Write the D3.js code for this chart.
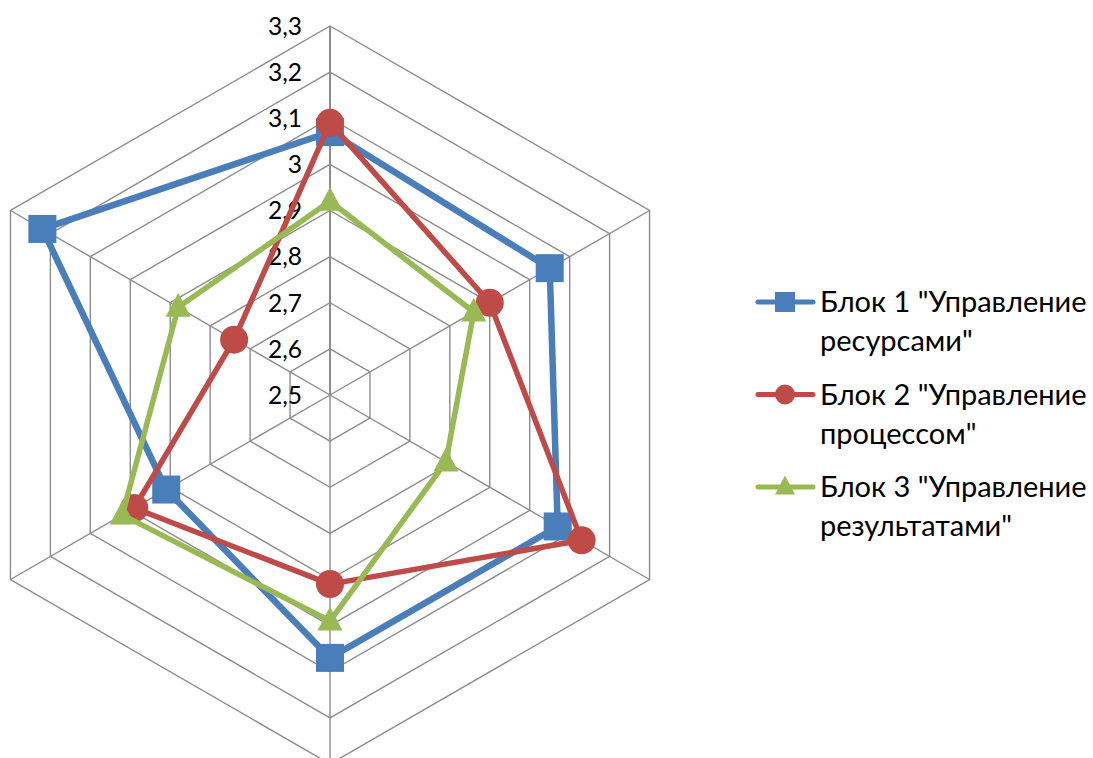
<!DOCTYPE html>
<html><head><meta charset="utf-8">
<script src="https://cdn.jsdelivr.net/npm/d3@7/dist/d3.min.js"></script>
<style>html,body{margin:0;padding:0;background:#fff;}svg{display:block;}</style>
</head><body>
<script>
// Data
const categories = ["1", "2", "3", "4", "5", "6"]; // clockwise from top (no labels shown)
const seriesNames = ['Блок 1 "Управление ресурсами"', 'Блок 2 "Управление процессом"', 'Блок 3 "Управление результатами"'];
const legendLines = [['Блок 1 "Управление', 'ресурсами"'], ['Блок 2 "Управление', 'процессом"'], ['Блок 3 "Управление', 'результатами"']];
const block1 = [3.07, 3.05, 3.07, 3.07, 2.91, 3.22];
const block2 = [3.09, 2.90, 3.13, 2.91, 2.99, 2.74];
const block3 = [2.92, 2.86, 2.79, 2.99, 3.02, 2.88];
const tickValues = [2.5, 2.6, 2.7, 2.8, 2.9, 3.0, 3.1, 3.2, 3.3];

const W = 1093, H = 758;
const cx = 330, cy = 395, R = 369;
const colors = ["#4A7EBB", "#BE4B48", "#98B954"];
const markers = ["square", "circle", "triangle"];
const series = [block1, block2, block3];

const svg = d3.select("body").append("svg").attr("width", W).attr("height", H);
const r = d3.scaleLinear().domain([2.5, 3.3]).range([0, R]);
const ang = d3.scaleLinear().domain([0, categories.length]).range([0, 2 * Math.PI]);
const pt = (i, v) => [cx + r(v) * Math.sin(ang(i)), cy - r(v) * Math.cos(ang(i))];

const loc = d3.formatLocale({decimal: ",", thousands: " ", grouping: [3], currency: ["", ""]});
const fmt = loc.format(".1~f");

const g = svg.append("g");
// rings
tickValues.slice(1).forEach(t => {
  g.append("path")
    .attr("d", d3.line()(categories.map((c, i) => pt(i, t))) + "Z")
    .attr("fill", "none").attr("stroke", "#8C8C8C").attr("stroke-width", 1.4);
});
// spokes
categories.forEach((c, i) => {
  const p = pt(i, 3.3);
  g.append("line").attr("x1", cx).attr("y1", cy).attr("x2", p[0]).attr("y2", p[1])
    .attr("stroke", "#8C8C8C").attr("stroke-width", i === 0 ? 2 : 1.4);
});
// tick labels
tickValues.forEach(t => {
  g.append("text").attr("x", 302).attr("y", cy - r(t)).attr("dy", "0.36em")
    .attr("text-anchor", "end").attr("font-family", "Lato, 'Open Sans', sans-serif")
    .attr("font-size", 24.5).attr("fill", "#000").text(fmt(t));
});

function drawMarker(sel, type, x, y, size, color) {
  if (type === "square") {
    sel.append("rect").attr("x", x - size / 2).attr("y", y - size / 2).attr("width", size).attr("height", size).attr("fill", color);
  } else if (type === "circle") {
    sel.append("circle").attr("cx", x).attr("cy", y).attr("r", size / 2).attr("fill", color);
  } else {
    const h = size * 0.95;
    sel.append("path").attr("d", `M${x},${y - h * 0.6}L${x + size / 2},${y + h * 0.4}L${x - size / 2},${y + h * 0.4}Z`).attr("fill", color);
  }
}

// series lines
series.forEach((s, k) => {
  g.append("path")
    .attr("d", d3.line()(s.map((v, i) => pt(i, v))) + "Z")
    .attr("fill", "none").attr("stroke", colors[k]).attr("stroke-width", k === 0 ? 6.5 : 5.5)
    .attr("stroke-linejoin", "round");
  s.forEach((v, i) => {
    const p = pt(i, v);
    drawMarker(g, markers[k], p[0], p[1], markers[k] === "triangle" ? 25 : 28, colors[k]);
  });
});

// legend
const lg = svg.append("g");
legendLines.forEach((lines, k) => {
  const y0 = 302 + k * 92.5;
  lg.append("line").attr("x1", 758).attr("x2", 813).attr("y1", y0).attr("y2", y0)
    .attr("stroke", colors[k]).attr("stroke-width", 5).attr("stroke-linecap", "round");
  drawMarker(lg, markers[k], 785, y0, 20, colors[k]);
  lines.forEach((ln, j) => {
    lg.append("text").attr("x", 820).attr("y", y0 + j * 39).attr("dy", "0.36em")
      .attr("font-family", "Lato, 'Open Sans', sans-serif").attr("font-size", 29)
      .attr("fill", "#000").text(ln);
  });
});
</script>
</body></html>
